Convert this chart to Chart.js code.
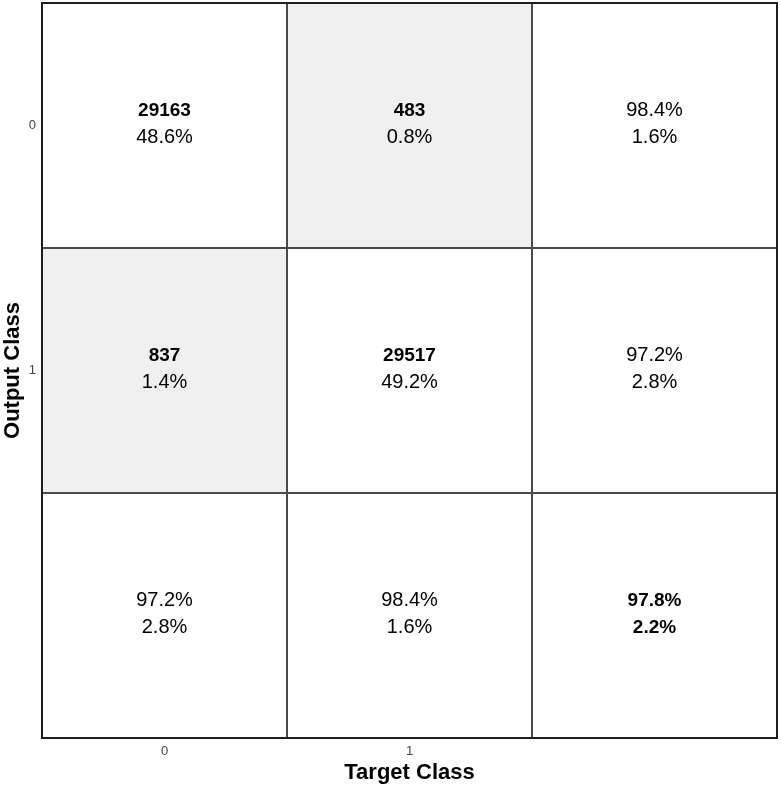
<!DOCTYPE html>
<html>
<head>
<meta charset="utf-8">
<script src="https://cdn.jsdelivr.net/npm/chart.js@4.4.1/dist/chart.umd.min.js"></script>
<style>
  body { margin: 0; background: #fff; }
  #wrap { width: 781px; height: 786px; }
</style>
</head>
<body>
<div id="wrap"><canvas id="cm"></canvas></div>
<script>
'use strict'

let targetClasses = ['0', '1', ''];   // x tick labels
let outputClasses = ['0', '1', ''];   // y tick labels
let counts = [[29163, 483], [837, 29517]];  // rows = output, cols = target
let cellPct = [[48.6, 0.8], [1.4, 49.2]];
let rowPct = [[98.4, 1.6], [97.2, 2.8]];    // right column (correct / wrong)
let colPct = [[97.2, 2.8], [98.4, 1.6]];    // bottom row (correct / wrong)
let totalPct = [97.8, 2.2];

let fontFam = '"Liberation Sans", Arial, sans-serif';

function pct(v) {
    return v.toFixed(1) + '%';
}

// one point per cell, text stays in the point
let cells = [];
for (let r = 0; r < 2; r++) {
    for (let c = 0; c < 2; c++) {
        cells.push({ x: c + 0.5, y: r + 0.5, top: String(counts[r][c]), bottom: pct(cellPct[r][c]),
            boldTop: true, boldBottom: false, fill: r === c ? '#ffffff' : '#f0f0f0' });
    }
    cells.push({ x: 2.5, y: r + 0.5, top: pct(rowPct[r][0]), bottom: pct(rowPct[r][1]),
        boldTop: false, boldBottom: false, fill: '#ffffff' });
}
for (let c = 0; c < 2; c++) {
    cells.push({ x: c + 0.5, y: 2.5, top: pct(colPct[c][0]), bottom: pct(colPct[c][1]),
        boldTop: false, boldBottom: false, fill: '#ffffff' });
}
cells.push({ x: 2.5, y: 2.5, top: pct(totalPct[0]), bottom: pct(totalPct[1]),
    boldTop: true, boldBottom: true, fill: '#ffffff' });

let cellPlugin = {
    id: 'cellPlugin',
    beforeDatasetsDraw(chart) {
        let ctx = chart.ctx;
        let xs = chart.scales.x;
        let ys = chart.scales.y;
        let pts = chart.data.datasets[0].data;
        ctx.save();
        pts.forEach(function (p) {
            let x0 = xs.getPixelForValue(p.x - 0.5);
            let x1 = xs.getPixelForValue(p.x + 0.5);
            let y0 = ys.getPixelForValue(p.y - 0.5);
            let y1 = ys.getPixelForValue(p.y + 0.5);
            ctx.fillStyle = p.fill;
            ctx.fillRect(x0, y0, x1 - x0, y1 - y0);
            let cx = xs.getPixelForValue(p.x);
            let cy = ys.getPixelForValue(p.y);
            ctx.fillStyle = '#000';
            ctx.textAlign = 'center';
            ctx.textBaseline = 'middle';
            ctx.font = p.boldTop ? 'bold 19px ' + fontFam : '20px ' + fontFam;
            ctx.fillText(p.top, cx, cy - 15);
            ctx.font = p.boldBottom ? 'bold 19px ' + fontFam : '20px ' + fontFam;
            ctx.fillText(p.bottom, cx, cy + 12);
        });
        // inner grid lines
        ctx.strokeStyle = '#4a4a4a';
        ctx.lineWidth = 2;
        for (let i = 1; i < 3; i++) {
            let gx = Math.round(xs.getPixelForValue(i));
            let gy = Math.round(ys.getPixelForValue(i));
            ctx.beginPath();
            ctx.moveTo(gx, chart.chartArea.top);
            ctx.lineTo(gx, chart.chartArea.bottom);
            ctx.moveTo(chart.chartArea.left, gy);
            ctx.lineTo(chart.chartArea.right, gy);
            ctx.stroke();
        }
        // outer frame
        ctx.strokeStyle = '#1e1e1e';
        let a = chart.chartArea;
        ctx.strokeRect(a.left, a.top, a.right - a.left, a.bottom - a.top);
        ctx.restore();
    }
};

function fixTicks(scale) {
    scale.ticks = [{ value: 0.5 }, { value: 1.5 }];
}

let chart = new Chart(document.getElementById('cm'), {
    type: 'scatter',
    data: {
        datasets: [{
            data: cells,
            pointRadius: 0,
            pointHoverRadius: 0
        }]
    },
    options: {
        responsive: true,
        maintainAspectRatio: false,
        animation: false,
        layout: { padding: { top: 3, right: 4, left: 0, bottom: 0 } },
        plugins: {
            legend: { display: false },
            tooltip: { enabled: false }
        },
        scales: {
            x: {
                type: 'linear',
                min: 0,
                max: 3,
                grid: { display: false, drawTicks: false },
                border: { display: false },
                afterBuildTicks: fixTicks,
                afterFit: function (scale) {
                    scale.height = 48;
                    scale.paddingLeft = 0;
                    scale.paddingRight = 0;
                },
                ticks: {
                    autoSkip: false,
                    maxRotation: 0,
                    padding: 6,
                    color: '#444',
                    font: { family: fontFam, size: 13 },
                    callback: function (v) { return targetClasses[Math.floor(v)]; }
                },
                title: {
                    display: true,
                    text: 'Target Class',
                    color: '#000',
                    padding: { top: 1, bottom: 0 },
                    font: { family: fontFam, size: 22, weight: 'bold' }
                }
            },
            y: {
                type: 'linear',
                min: 0,
                max: 3,
                reverse: true,
                grid: { display: false, drawTicks: false },
                border: { display: false },
                afterBuildTicks: fixTicks,
                afterFit: function (scale) {
                    scale.width = 42;
                    scale.paddingTop = 0;
                    scale.paddingBottom = 0;
                },
                ticks: {
                    autoSkip: false,
                    padding: 6,
                    color: '#444',
                    font: { family: fontFam, size: 13 },
                    callback: function (v) { return outputClasses[Math.floor(v)]; }
                },
                title: {
                    display: true,
                    text: 'Output Class',
                    color: '#000',
                    padding: { top: 0, bottom: 0 },
                    font: { family: fontFam, size: 22, weight: 'bold' }
                }
            }
        }
    },
    plugins: [cellPlugin]
});
</script>
</body>
</html>
